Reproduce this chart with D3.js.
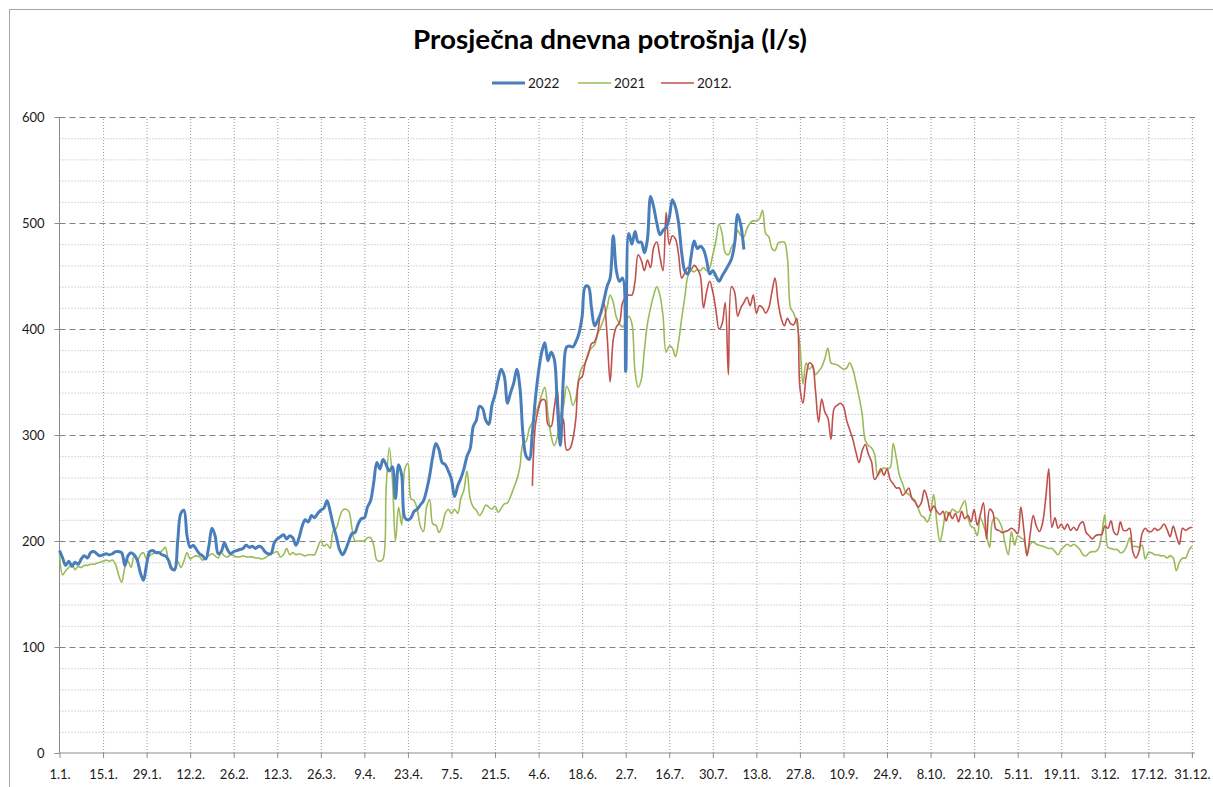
<!DOCTYPE html>
<html>
<head>
<meta charset="utf-8">
<script src="https://cdn.jsdelivr.net/npm/d3@7"></script>
<style>
  body { margin: 0; background: #fff; }
  text { font-family: Lato, "Open Sans", sans-serif; }
</style>
</head>
<body>
<div id="my_chart"></div>
<script>
// tick labels on the category axis (every 14th day)
const tickLabels = ["1.1.", "15.1.", "29.1.", "12.2.", "26.2.", "12.3.", "26.3.", "9.4.", "23.4.", "7.5.",
  "21.5.", "4.6.", "18.6.", "2.7.", "16.7.", "30.7.", "13.8.", "27.8.", "10.9.", "24.9.", "8.10.",
  "22.10.", "5.11.", "19.11.", "3.12.", "17.12.", "31.12."];

const seriesNames = ["2022", "2021", "2012."];

// 2022, from 1.1. (day 0) to about 9.8.
const values2022 = [
  191,184,177,181,176,180,178,183,186,184, 189,190,188,186,187,188,187,188,190,190,
  189,177,186,189,187,182,170,163,178,190, 191,189,189,187,186,182,174,173,200,226,
  229,205,194,196,192,188,186,183,195,212, 205,188,190,198,192,188,190,191,192,193,
  196,194,195,
  193,195,194,190,188,188,198,
  202,204,206,202,205,203,196,203,214,220, 218,224,222,226,229,231,238,228,215,204,
  192,187,192,200,207,208,216,221,222,232, 238,255,274,268,277,272,266,270,240,272,
  262,222,220,222,228,230,234,238,248,262, 280,292,286,274,272,266,
  258,242,252,259,
  268,280,287,308,314,327,325,314,310,328, 338,352,362,355,330,340,349,362,345,300,
  280,277,302,335,360,378,387,370,378,372, 330,290,355,383,384,383,388,396,412,440,
  440,420,403,408,415,427,440,448,488,455, 445,448,360,
  490,480,492,482,482,472,485,
  525,515,500,489,493,496,505,522,515,500, 472,455,452,468,483,476,478,475,465,452,
  455,450,445,450,455,460,466,480,508,498, 475
];

// 2021, whole year
const values2021 = [
  189,168,172,175,178,173,176,175,177,177, 178,178,179,180,181,182,181,182,178,168,
  161,175,181,175,186,181,187,189,183,186, 188,190,189,191,194,182,176,172,181,175,
  181,189,183,185,186,185,182,184,186,188, 186,184,189,186,185,187,186,185,185,186,
  185,185,185,
  184,184,183,184,186,188,189,
  190,185,187,193,187,189,187,188,187,186, 187,187,187,194,200,195,197,193,210,212,
  222,229,230,228,212,200,200,200,200,203, 203,196,182,181,183,250,288,258,200,232,
  215,268,273,240,238,230,214,209,232,239, 216,215,208,214,226,230,
  226,230,226,240,
  248,266,240,232,229,224,228,234,232,230, 233,227,231,235,236,242,250,258,270,292,
  294,306,312,320,328,338,345,320,300,290, 298,318,327,346,340,328,335,355,364,368,
  378,382,385,395,
  402,410,420,432,425,411,405,402,406,412, 405,360,345,352,380,405,420,432,440,432,
  412,378,384,382,374,388,410,430,450,455, 454,456,455,458,455,458,470,483,499,490,
  472,470,477,482,493,488,487,495,500,502, 502,504,512,490,487,476,474,481,482,482,
  467,420,415,405,
  385,348,368,362,365,357,360,364,372,382, 368,367,366,364,362,363,368,362,350,336,
  320,295,290,288,282,262,266,269,268,269,
  292,278,262,254,246,244,241,238,231,224,
  222,218,226,244,218,199,212,228,224,230,228,
  227,233,238,222,214,212,205,222,215,205, 194,220,222,219,212,197,187,209,196,205,
  203,201,187,197,199,197,196,195,194,193, 193,190,187,192,195,197,195,197,195,192,
  187,186,189,190,190,193,206,225,194,193, 192,192,189,190,195,203,195,195,194,196,
  183,189,189,187,187,186,186,184,186,184, 172,180,184,184,191,195
];

// 2012, from 1.6. to 31.12.
const start2012 = 152;
const values2012 = [
  252,310,325,333,333,310,308,325, 343,300,315,286,287,296,316,352,355,368, 376,386,388,397,
  416,424,395,350,390,402,406,425,430,432, 432,445,470,465,455,465,458,477,482,468,
  455,510,480,488,485,470,448,453,458,456, 460,457,450,420,435,445,435,418,400,405,
  425,357,440,435,412,420,425,430,422,432, 415,422,420,415,420,435,448,425,410,403,
  410,405,404,410,
  345,330,355,368,366,342,312,334,322,316, 296,325,328,330,327,314,305,296,284,274,
  285,291,282,275,258,262,268,262,268,258, 254,250,250,243,246,250,240,237,232,236,
  248,240,228,233,228,225,228,219,227,221,226,
  218,228,221,224,218,230,215,225,236,202, 230,227,211,210,208,209,210,212,210,207,
  232,210,186,206,224,214,209,217,240,268, 213,222,212,216,211,216,210,213,210,216,
  218,208,205,202,205,206,206,214,212,219, 208,206,218,210,210,212,190,184,190,207,
  212,209,209,212,210,212,216,211,204,214, 205,197,212,210,212,213
];

const W = 1213, H = 787;
const margin = {top: 117, right: 18, bottom: 34, left: 59.5};
const width = W - margin.left - margin.right,
      height = H - margin.top - margin.bottom;

const svg = d3.select("#my_chart")
  .append("svg")
    .attr("width", W)
    .attr("height", H);

// chart area frame (runs off the right and bottom edge)
svg.append("rect")
  .attr("x", 9.5).attr("y", 9.5)
  .attr("width", 1300).attr("height", 900)
  .attr("fill", "none")
  .attr("stroke", "#a6a6a6");

const g = svg.append("g")
  .attr("transform", `translate(${margin.left}, ${margin.top})`);

// one category per day, 366 slots
const x = d3.scaleLinear()
  .domain([0, 365])
  .range([0, width]);

const y = d3.scaleLinear()
  .domain([0, 600])
  .range([height, 0]);

const tickDays = tickLabels.map((d, i) => i * 14);

// minor horizontal grid (every 20)
g.append("g")
  .call(d3.axisLeft(y).tickValues(d3.range(20, 600, 20).filter(v => v % 100 !== 0)).tickSize(-width).tickFormat(""))
  .call(s => s.select(".domain").remove())
  .selectAll("line")
    .attr("stroke", "#b0b0b0")
    .attr("stroke-dasharray", "1,2");

// vertical grid at the labelled days
g.append("g")
  .attr("transform", `translate(0, ${height})`)
  .call(d3.axisBottom(x).tickValues(tickDays.slice(1)).tickSize(-height).tickFormat(""))
  .call(s => s.select(".domain").remove())
  .selectAll("line")
    .attr("stroke", "#9a9a9a")
    .attr("stroke-dasharray", "1,2");

// major horizontal grid (every 100)
g.append("g")
  .call(d3.axisLeft(y).tickValues([100, 200, 300, 400, 500, 600]).tickSize(-width).tickFormat(""))
  .call(s => s.select(".domain").remove())
  .selectAll("line")
    .attr("stroke", "#808080")
    .attr("stroke-dasharray", "6,4");

// Y axis
const yAxis = g.append("g")
  .call(d3.axisLeft(y).tickValues(d3.range(0, 601, 100)).tickSize(5).tickPadding(10));
yAxis.select(".domain").attr("stroke", "#8c8c8c").attr("d", `M0,${height}V0`);
yAxis.selectAll("line").attr("stroke", "#8c8c8c");
yAxis.selectAll("text").style("font-size", "13px").attr("fill", "#1a1a1a");

// X axis
const xAxis = g.append("g")
  .attr("transform", `translate(0, ${height})`)
  .call(d3.axisBottom(x).tickValues(tickDays).tickSize(5).tickPadding(12)
    .tickFormat((d, i) => tickLabels[i]));
xAxis.select(".domain").attr("stroke", "#8c8c8c").attr("d", `M0,0H${width}`);
xAxis.selectAll("line").attr("stroke", "#8c8c8c");
xAxis.selectAll("text").style("font-size", "13px").attr("fill", "#1a1a1a");

// the lines
const line = offset => d3.line()
  .x((d, i) => x(i + offset))
  .y(d => y(d))
  .curve(d3.curveCatmullRom.alpha(0.5));

const series = [
  {name: seriesNames[1], values: values2021, offset: 0, color: "#9bbb59", w: 1.6},
  {name: seriesNames[2], values: values2012, offset: start2012, color: "#c0504d", w: 1.6},
  {name: seriesNames[0], values: values2022, offset: 0, color: "#4a7ebb", w: 3}
];

g.selectAll("myLines")
  .data(series)
  .join("path")
    .attr("d", d => line(d.offset)(d.values))
    .attr("stroke", d => d.color)
    .style("stroke-width", d => d.w)
    .style("stroke-linejoin", "round")
    .style("fill", "none");

// title
svg.append("text")
  .attr("x", 610)
  .attr("y", 49)
  .style("text-anchor", "middle")
  .style("font-size", "26px")
  .style("font-weight", "bold")
  .attr("fill", "#000")
  .attr("textLength", 394)
  .attr("lengthAdjust", "spacingAndGlyphs")
  .text("Prosječna dnevna potrošnja (l/s)");

// legend
const legendItems = [
  {name: seriesNames[0], color: "#4a7ebb", w: 3, x: 492},
  {name: seriesNames[1], color: "#9bbb59", w: 1.6, x: 578},
  {name: seriesNames[2], color: "#c0504d", w: 1.6, x: 661}
];
const legend = svg.selectAll("myLegend")
  .data(legendItems)
  .join("g")
    .attr("transform", d => `translate(${d.x}, 83)`);
legend.append("line")
  .attr("x1", 0).attr("x2", 33)
  .attr("stroke", d => d.color)
  .style("stroke-width", d => d.w);
legend.append("text")
  .attr("x", 36)
  .attr("dy", "0.35em")
  .style("font-size", "13.5px")
  .attr("fill", "#1a1a1a")
  .text(d => d.name);
</script>
</body>
</html>
